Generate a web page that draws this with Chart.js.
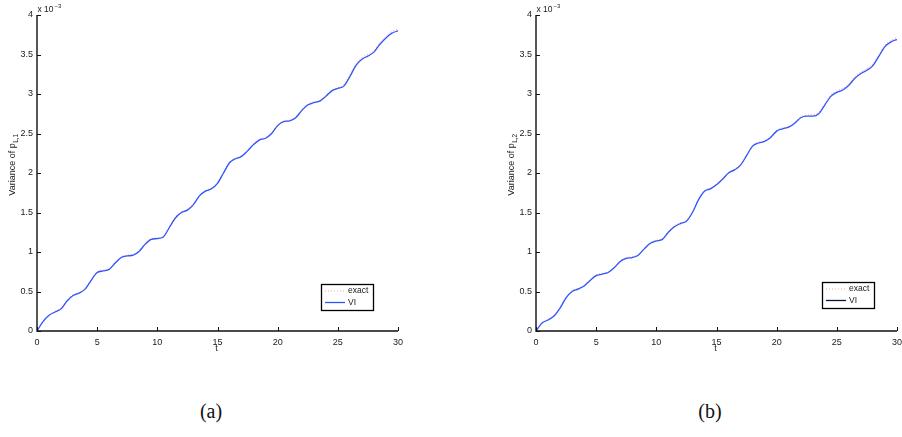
<!DOCTYPE html>
<html>
<head>
<meta charset="utf-8">
<script src="https://cdn.jsdelivr.net/npm/chart.js@4.4.0/dist/chart.umd.min.js"></script>
<style>
  html, body { margin: 0; padding: 0; background: #fff; width: 902px; height: 437px; overflow: hidden; position: relative; }
  .panel { position: absolute; top: 0; height: 360px; }
  #wa { left: 0; width: 451px; }
  #wb { left: 451px; width: 480px; }
  .cap { position: absolute; top: 400px; font: 20px "Liberation Serif", "DejaVu Serif", serif; color: #111; transform: translateX(-50%); }
</style>
</head>
<body>
<div class="panel" id="wa"><canvas id="ca" width="451" height="360" style="width:451px;height:360px"></canvas></div>
<div class="panel" id="wb"><canvas id="cb" width="480" height="360" style="width:480px;height:360px"></canvas></div>
<div class="cap" style="left:211px">(a)</div>
<div class="cap" style="left:710px">(b)</div>
<script>
// time samples (t)
const tValues = [0,0.5,1,1.5,2,2.5,3,3.5,4,4.5,5,5.5,6,6.5,7,7.5,8,8.5,9,9.5,10,
  10.5,11,11.5,12,12.5,13,13.5,14,14.5,15,15.5,16,16.5,17,17.5,18,18.5,19,19.5,20,
  20.5,21,21.5,22,22.5,23,23.5,24,24.5,25,25.5,26,26.5,27,27.5,28,28.5,29,29.5,30];

// variance of p_{L,1}, units of 1e-3
const varL1_VI = [0,0.12,0.20,0.24,0.28,0.38,0.45,0.48,0.53,0.64,0.74,0.76,0.78,0.86,0.93,0.95,0.96,1.01,1.10,1.16,1.17,
  1.19,1.31,1.43,1.50,1.53,1.60,1.71,1.77,1.80,1.87,2.00,2.13,2.18,2.21,2.28,2.36,2.42,2.44,2.50,2.60,
  2.65,2.66,2.70,2.79,2.86,2.89,2.91,2.97,3.04,3.07,3.10,3.22,3.36,3.44,3.48,3.53,3.63,3.71,3.77,3.80];
const varL1_exact = [0,0.12,0.20,0.25,0.29,0.39,0.46,0.48,0.54,0.65,0.75,0.77,0.79,0.87,0.94,0.96,0.97,1.02,1.11,1.17,1.18,
  1.20,1.32,1.44,1.51,1.54,1.61,1.72,1.78,1.81,1.88,2.01,2.14,2.19,2.22,2.29,2.37,2.43,2.45,2.51,2.61,
  2.66,2.67,2.71,2.80,2.87,2.90,2.92,2.98,3.05,3.08,3.12,3.24,3.38,3.46,3.50,3.55,3.65,3.73,3.79,3.82];

// variance of p_{L,2}, units of 1e-3
const varL2_VI = [0,0.10,0.14,0.19,0.29,0.42,0.50,0.53,0.57,0.64,0.70,0.72,0.74,0.80,0.88,0.92,0.93,0.96,1.04,1.11,1.14,
  1.16,1.25,1.32,1.36,1.39,1.50,1.66,1.77,1.80,1.85,1.92,2.00,2.04,2.10,2.22,2.34,2.38,2.40,2.45,2.53,
  2.56,2.58,2.63,2.70,2.72,2.72,2.75,2.86,2.97,3.02,3.05,3.11,3.20,3.26,3.30,3.36,3.48,3.60,3.66,3.69];
const varL2_exact = [0,0.10,0.15,0.20,0.30,0.43,0.51,0.54,0.58,0.65,0.71,0.73,0.75,0.81,0.89,0.93,0.94,0.97,1.05,1.12,1.15,
  1.17,1.26,1.33,1.37,1.40,1.51,1.67,1.78,1.81,1.86,1.93,2.01,2.05,2.11,2.23,2.35,2.39,2.41,2.46,2.54,
  2.57,2.59,2.64,2.71,2.73,2.74,2.77,2.88,2.99,3.04,3.07,3.13,3.22,3.28,3.32,3.38,3.50,3.62,3.68,3.72];

const xTicks = [0,5,10,15,20,25,30];
const yTicks = [0,0.5,1,1.5,2,2.5,3,3.5,4];
const seriesLabels = ['exact', 'VI'];

const FONT = '"Liberation Sans", Arial, Helvetica, sans-serif';
const INK = '#1a1a1a';

function pts(vals) { return tValues.map((t, i) => ({ x: t, y: vals[i] })); }

// axes drawn MATLAB-style: left and bottom spines, ticks pointing inward
const spinesAndTicks = {
  id: 'spinesAndTicks',
  afterDatasetsDraw(chart) {
    const { ctx, chartArea: a, scales: { x, y } } = chart;
    ctx.save();
    ctx.strokeStyle = '#111';
    ctx.lineWidth = 1;
    ctx.beginPath();
    x.ticks.forEach(tk => {
      const px = Math.round(x.getPixelForValue(tk.value)) + 0.5;
      ctx.moveTo(px, a.bottom); ctx.lineTo(px, a.bottom - 4);
    });
    y.ticks.forEach(tk => {
      const py = Math.round(y.getPixelForValue(tk.value)) + 0.5;
      ctx.moveTo(a.left, py); ctx.lineTo(a.left + 4, py);
    });
    ctx.stroke();
    ctx.lineWidth = 1.4;
    ctx.beginPath();
    ctx.moveTo(a.left, a.top); ctx.lineTo(a.left, a.bottom); ctx.lineTo(a.right, a.bottom);
    ctx.stroke();
    ctx.restore();
  }
};

// axis titles, exponent note and boxed legend
const annotations = {
  id: 'annotations',
  afterDraw(chart, args, opts) {
    const { ctx, chartArea: a } = chart;
    ctx.save();
    ctx.fillStyle = INK;
    // x title
    ctx.font = '9px ' + FONT;
    ctx.textAlign = 'center'; ctx.textBaseline = 'middle';
    ctx.fillText('t', (a.left + a.right) / 2 - 1, 349);
    // y title with subscript
    ctx.save();
    ctx.translate(a.left - 25, 165);
    ctx.rotate(-Math.PI / 2);
    ctx.textBaseline = 'alphabetic';
    ctx.textAlign = 'left';
    const main = 'Variance of p';
    ctx.font = '9px ' + FONT;
    const w1 = ctx.measureText(main).width;
    ctx.font = '6.5px ' + FONT;
    const w2 = ctx.measureText(opts.sub).width;
    const start = -(w1 + w2) / 2;
    ctx.font = '9px ' + FONT;
    ctx.fillText(main, start, 3);
    ctx.font = '6.5px ' + FONT;
    ctx.fillText(opts.sub, start + w1 + 0.5, 6);
    ctx.restore();
    // exponent
    ctx.textAlign = 'left'; ctx.textBaseline = 'alphabetic';
    ctx.font = '8.5px ' + FONT;
    ctx.fillText('x 10', a.left + 0.5, 12);
    const we = ctx.measureText('x 10').width;
    ctx.font = '6px ' + FONT;
    ctx.fillText('\u22123', a.left + we + 1.5, 7.5);
    // legend
    const bx = opts.box[0], by = opts.box[1], bw = 52, bh = 26;
    ctx.fillStyle = '#fff';
    ctx.fillRect(bx, by, bw, bh);
    ctx.strokeStyle = '#000';
    ctx.lineWidth = 1.3;
    ctx.strokeRect(bx + 0.5, by + 0.5, bw, bh);
    const rows = [by + 7, by + 18.5];
    ctx.lineWidth = 1;
    ctx.strokeStyle = '#f4a0a0';
    ctx.setLineDash([1, 2]);
    ctx.beginPath(); ctx.moveTo(bx + 4, rows[0]); ctx.lineTo(bx + 24, rows[0]); ctx.stroke();
    ctx.setLineDash([]);
    ctx.strokeStyle = opts.viLegendColor;
    ctx.lineWidth = 1.3;
    ctx.beginPath(); ctx.moveTo(bx + 4, rows[1]); ctx.lineTo(bx + 24, rows[1]); ctx.stroke();
    ctx.fillStyle = INK;
    ctx.font = '8.5px ' + FONT;
    ctx.textBaseline = 'middle';
    ctx.fillText(seriesLabels[0], bx + 27, rows[0]);
    ctx.fillText(seriesLabels[1], bx + 27, rows[1]);
    ctx.restore();
  }
};

function makeChart(id, exactVals, viVals, padLeft, padRight, sub, box, viLegendColor) {
  return new Chart(document.getElementById(id), {
    type: 'line',
    data: {
      datasets: [
        { label: seriesLabels[1], data: pts(viVals), borderColor: '#2f55ff', borderWidth: 1.3,
          pointRadius: 0, cubicInterpolationMode: 'monotone', fill: false },
        { label: seriesLabels[0], data: pts(exactVals), borderColor: 'rgba(240,120,120,0.75)', borderWidth: 1,
          borderDash: [1, 2], pointRadius: 0, cubicInterpolationMode: 'monotone', fill: false }
      ]
    },
    options: {
      responsive: false,
      animation: false,
      layout: { padding: { left: padLeft, right: padRight, top: 15, bottom: 0 } },
      plugins: {
        legend: { display: false },
        tooltip: { enabled: false },
        annotations: { sub: sub, box: box, viLegendColor: viLegendColor }
      },
      scales: {
        x: {
          type: 'linear', min: 0, max: 30,
          afterBuildTicks: s => { s.ticks = xTicks.map(v => ({ value: v })); },
          afterFit: s => { s.height = 29; },
          grid: { display: false, drawTicks: false },
          border: { display: false },
          ticks: { padding: 6, color: INK, font: { family: FONT, size: 9 }, maxRotation: 0,
                   callback: v => String(v) }
        },
        y: {
          type: 'linear', min: 0, max: 4,
          afterBuildTicks: s => { s.ticks = yTicks.map(v => ({ value: v })); },
          afterFit: s => { s.width = 37; },
          grid: { display: false, drawTicks: false },
          border: { display: false },
          ticks: { padding: 4, color: INK, font: { family: FONT, size: 9 },
                   callback: v => String(v) }
        }
      }
    },
    plugins: [spinesAndTicks, annotations]
  });
}

makeChart('ca', varL1_exact, varL1_VI, 0, 53, 'L,1', [321, 284], '#2f55ff');
makeChart('cb', varL2_exact, varL2_VI, 48, 34, 'L,2', [371, 282], '#101040');
</script>
</body>
</html>
